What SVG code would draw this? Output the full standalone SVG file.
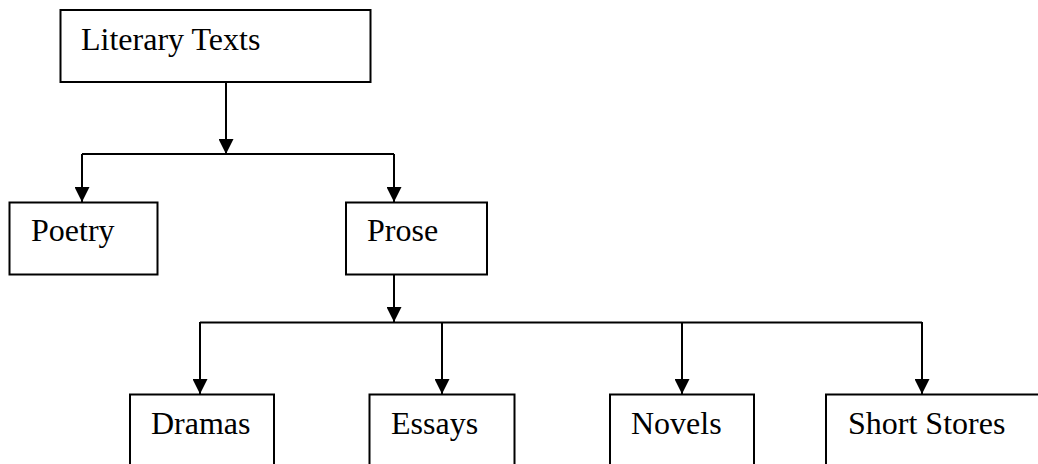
<svg xmlns="http://www.w3.org/2000/svg" width="1038" height="464" viewBox="0 0 1038 464">
<style>
.box{fill:#fff;stroke:#000;stroke-width:2}
.lbl{font-family:"Liberation Serif","Times New Roman",serif;font-size:32px;fill:#000}
.con{stroke:#000;stroke-width:2;fill:none}
</style>
<defs>
<marker id="ah" viewBox="0 0 15 15" refX="15" refY="7.5" markerWidth="15" markerHeight="15" markerUnits="userSpaceOnUse" orient="auto">
<path d="M0,0 L15,7.5 L0,15 z" fill="#000"/>
</marker>
</defs>
<rect width="1038" height="464" fill="#fff"/>
<g id="connectors">
<line class="con" x1="226" y1="82" x2="226" y2="154" marker-end="url(#ah)"/>
<polyline class="con" points="82,154 394,154"/>
<line class="con" x1="82" y1="154" x2="82" y2="202" marker-end="url(#ah)"/>
<line class="con" x1="394" y1="154" x2="394" y2="202" marker-end="url(#ah)"/>
<line class="con" x1="394" y1="274" x2="394" y2="322" marker-end="url(#ah)"/>
<polyline class="con" points="200,322.5 922,322.5"/>
<line class="con" x1="200" y1="322" x2="200" y2="394" marker-end="url(#ah)"/>
<line class="con" x1="442" y1="322" x2="442" y2="394" marker-end="url(#ah)"/>
<line class="con" x1="682" y1="322" x2="682" y2="394" marker-end="url(#ah)"/>
<line class="con" x1="922" y1="322" x2="922" y2="394" marker-end="url(#ah)"/>
</g>
<g id="literary"><rect class="box" x="60.5" y="10" width="310" height="72"/><text class="lbl" x="81" y="50">Literary Texts</text></g>
<g id="poetry"><rect class="box" x="9.5" y="202.5" width="148" height="72"/><text class="lbl" x="31" y="241">Poetry</text></g>
<g id="prose"><rect class="box" x="346" y="202.5" width="141" height="72"/><text class="lbl" x="367" y="241">Prose</text></g>
<g id="dramas"><rect class="box" x="130" y="394.5" width="144" height="80"/><text class="lbl" x="151" y="434">Dramas</text></g>
<g id="essays"><rect class="box" x="369.5" y="394.5" width="145" height="80"/><text class="lbl" x="391" y="434">Essays</text></g>
<g id="novels"><rect class="box" x="610" y="394.5" width="144" height="80"/><text class="lbl" x="631" y="434">Novels</text></g>
<g id="short"><rect class="box" x="826" y="394.5" width="220" height="80"/><text class="lbl" x="848" y="434">Short Stores</text></g>
</svg>
